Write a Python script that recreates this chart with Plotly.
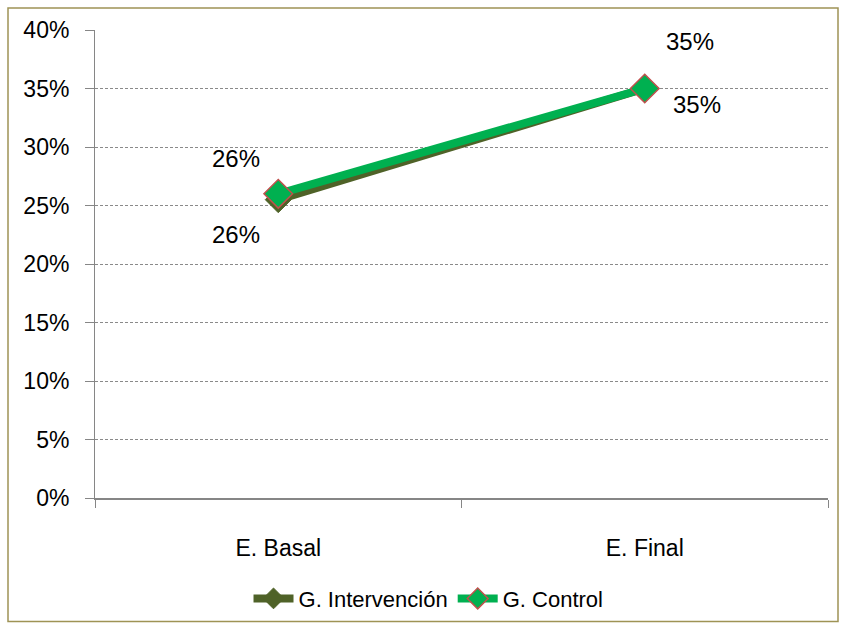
import plotly.graph_objects as go

categories = ["E. Basal", "E. Final"]
intervencion = [0.255, 0.35]
control = [0.26, 0.35]
interv_labels = ["26%", "35%"]
control_labels = ["26%", "35%"]

W, H = 846, 632
L, R, T, B = 95, 18, 30, 132
pw, ph = W - L - R, H - T - B

FONT = "Liberation Sans, Arial, sans-serif"

fig = go.Figure()
fig.add_trace(go.Scatter(
    x=categories, y=intervencion, name="G. Intervención", mode="lines+markers",
    line=dict(color="#4f6228", width=8),
    marker=dict(symbol="diamond", size=20, color="#4f6228", line=dict(color="#4f6228", width=1)),
))
fig.add_trace(go.Scatter(
    x=categories, y=control, name="G. Control", mode="lines+markers",
    line=dict(color="#00b050", width=8),
    marker=dict(symbol="diamond", size=22, color="#00b050", line=dict(color="#c0504d", width=1.5)),
))

lab_font = dict(family=FONT, size=24, color="#000000")
interv_off = [(-42, -35), (52, -16)]
control_off = [(-42, 35), (45, 47)]
for i, c in enumerate(categories):
    dx, dy = interv_off[i]
    fig.add_annotation(x=i, y=intervencion[i], text=interv_labels[i], showarrow=False,
                       xshift=dx, yshift=dy, font=lab_font)
    dx, dy = control_off[i]
    fig.add_annotation(x=i, y=control[i], text=control_labels[i], showarrow=False,
                       xshift=dx, yshift=dy, font=lab_font)

# outer border
fig.add_shape(type="rect", xref="paper", yref="paper",
              x0=(8 - L) / pw, x1=(838 - L) / pw,
              y0=(H - B - 624) / ph, y1=(H - B - 8) / ph,
              line=dict(color="#9e9355", width=1.5), fillcolor="rgba(0,0,0,0)")

fig.update_layout(
    width=W, height=H,
    margin=dict(l=L, r=R, t=T, b=B, pad=0),
    paper_bgcolor="white", plot_bgcolor="white",
    font=dict(family=FONT, size=23, color="#000000"),
    showlegend=True,
    legend=dict(orientation="h", x=0.455, xanchor="center", y=-0.215, yanchor="middle",
                font=dict(size=22), itemwidth=40, tracegroupgap=0,
                bgcolor="rgba(0,0,0,0)"),
    xaxis=dict(
        type="category", range=[-0.5, 1.5], showgrid=False,
        showline=True, linecolor="#868686", linewidth=2,
        ticks="outside", tickson="boundaries", ticklen=8, tickcolor="#868686",
        ticklabelstandoff=28, tickfont=dict(size=23),
    ),
    yaxis=dict(
        range=[0, 0.40], dtick=0.05, tickformat=".0%",
        showgrid=True, gridcolor="#8a8a8a", griddash="3px,2px", gridwidth=1,
        showline=True, linecolor="#868686", linewidth=1,
        ticks="outside", ticklen=9, tickcolor="#868686",
        ticklabelstandoff=11, tickfont=dict(size=23), zeroline=False,
    ),
)

fig.write_html("out.html")
